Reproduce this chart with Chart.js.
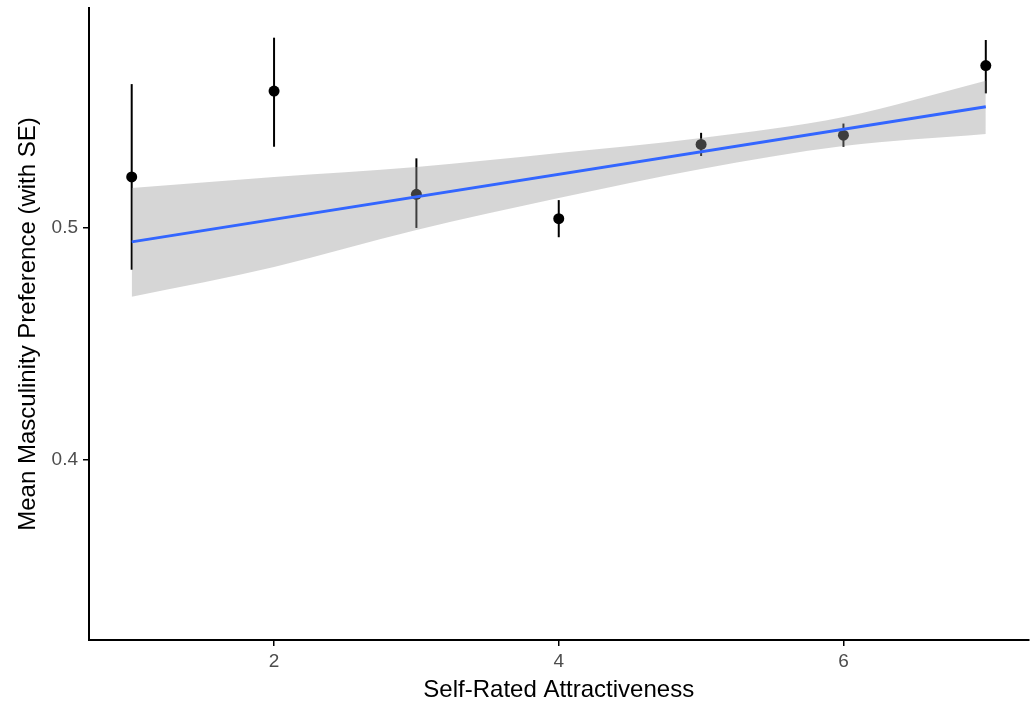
<!DOCTYPE html>
<html>
<head>
<meta charset="utf-8">
<script src="https://cdn.jsdelivr.net/npm/chart.js@4"></script>
<style>
  html, body { margin: 0; padding: 0; background: #fff; }
  #wrap { width: 1034px; height: 706px; }
</style>
</head>
<body>
<div id="wrap"><canvas id="chart" width="1034" height="706"></canvas></div>
<script>
// self-rated attractiveness levels
const ratings = [1, 2, 3, 4, 5, 6, 7];
const meanPref = [0.522, 0.559, 0.5145, 0.504, 0.536, 0.540, 0.570];
const seLow = [0.482, 0.535, 0.500, 0.496, 0.531, 0.535, 0.558];
const seHigh = [0.562, 0.582, 0.530, 0.512, 0.541, 0.545, 0.581];

// linear fit and its confidence band
const fitX = [1, 7];
const fitY = [0.494, 0.5522];
const bandUpper = [0.5172, 0.5220, 0.5263, 0.5323, 0.5388, 0.5478, 0.5634];
const bandLower = [0.4703, 0.4832, 0.4991, 0.5129, 0.5254, 0.5353, 0.5405];

const xTicks = [2, 4, 6];
const yTicks = [0.4, 0.5];

const pts = (xs, ys) => xs.map((x, i) => ({ x: x, y: ys[i] }));

const errorBars = {
  id: 'errorBars',
  beforeDatasetsDraw(chart) {
    const { ctx, scales: { x, y } } = chart;
    ctx.save();
    ctx.strokeStyle = '#000';
    ctx.lineWidth = 2;
    ratings.forEach((r, i) => {
      const px = x.getPixelForValue(r);
      ctx.beginPath();
      ctx.moveTo(px, y.getPixelForValue(seLow[i]));
      ctx.lineTo(px, y.getPixelForValue(seHigh[i]));
      ctx.stroke();
    });
    ctx.restore();
  }
};

new Chart(document.getElementById('chart').getContext('2d'), {
  type: 'line',
  data: {
    datasets: [
      {
        data: pts(fitX, fitY),
        borderColor: '#3366FF',
        borderWidth: 3,
        pointRadius: 0,
        fill: false,
        order: 0
      },
      {
        data: pts(ratings, bandUpper),
        borderWidth: 0,
        borderColor: 'rgba(0,0,0,0)',
        backgroundColor: 'rgba(153,153,153,0.4)',
        pointRadius: 0,
        cubicInterpolationMode: 'monotone',
        fill: '+1',
        order: 1
      },
      {
        data: pts(ratings, bandLower),
        borderWidth: 0,
        borderColor: 'rgba(0,0,0,0)',
        pointRadius: 0,
        cubicInterpolationMode: 'monotone',
        fill: false,
        order: 1
      },
      {
        data: pts(ratings, meanPref),
        showLine: false,
        pointRadius: 5.5,
        pointBackgroundColor: '#000',
        pointBorderWidth: 0,
        order: 2
      }
    ]
  },
  options: {
    responsive: false,
    animation: false,
    layout: { padding: { top: 8, right: 3, left: 0, bottom: 0 } },
    plugins: { legend: { display: false }, tooltip: { enabled: false } },
    scales: {
      x: {
        type: 'linear',
        min: 0.7,
        max: 7.3,
        afterBuildTicks: s => { s.ticks = xTicks.map(v => ({ value: v })); },
        afterFit: s => { s.height = 66; s.paddingLeft = 0; s.paddingRight = 0; },
        grid: { drawOnChartArea: false, color: '#000', tickLength: 6, lineWidth: 1.5 },
        border: { color: '#000', width: 2 },
        ticks: { color: '#4d4d4d', font: { family: 'Liberation Sans', size: 19 }, padding: 4 },
        title: {
          display: true,
          text: 'Self-Rated Attractiveness',
          color: '#000',
          font: { family: 'Liberation Sans', size: 24 },
          padding: { top: 0, bottom: 1 }
        }
      },
      y: {
        type: 'linear',
        min: 0.3224,
        max: 0.5948,
        afterBuildTicks: s => { s.ticks = yTicks.map(v => ({ value: v })); },
        afterFit: s => { s.width = 89; s.paddingTop = 0; s.paddingBottom = 0; },
        grid: { drawOnChartArea: false, color: '#000', tickLength: 6, lineWidth: 1.5 },
        border: { color: '#000', width: 2 },
        ticks: { color: '#4d4d4d', font: { family: 'Liberation Sans', size: 19 }, padding: 5,
                 callback: v => v.toFixed(1) },
        title: {
          display: true,
          text: 'Mean Masculinity Preference (with SE)',
          color: '#000',
          font: { family: 'Liberation Sans', size: 24 },
          padding: { top: 14, bottom: 4 }
        }
      }
    }
  },
  plugins: [errorBars]
});
</script>
</body>
</html>
